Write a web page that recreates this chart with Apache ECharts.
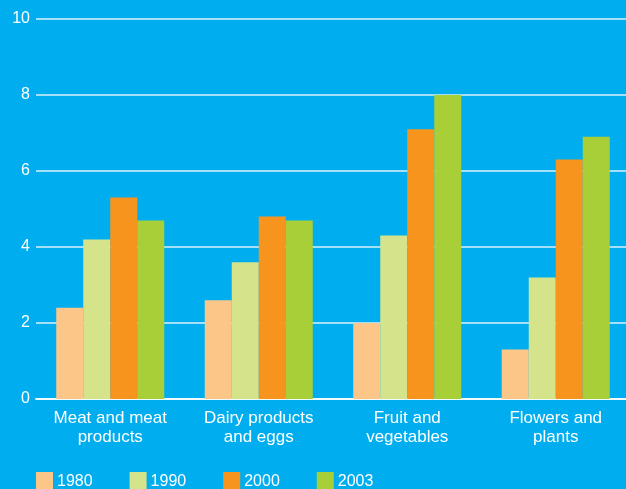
<!DOCTYPE html>
<html><head><meta charset="utf-8">
<script src="https://cdn.jsdelivr.net/npm/echarts@6/dist/echarts.min.js"></script>
<style>html,body{margin:0;padding:0;background:#00aeef;overflow:hidden;}#c{width:630px;height:489px;}</style>
</head><body><div id="c"></div>
<script>
const categories = ['Meat and meat\nproducts', 'Dairy products\nand eggs', 'Fruit and\nvegetables', 'Flowers and\nplants'];
const years = ['1980', '1990', '2000', '2003'];
const v1980 = [2.4, 2.6, 2.0, 1.3];
const v1990 = [4.2, 3.6, 4.3, 3.2];
const v2000 = [5.3, 4.8, 7.1, 6.3];
const v2003 = [4.7, 4.7, 8.0, 6.9];
const yTicks = [0, 2, 4, 6, 8, 10];
const colors = ['#fdc689', '#d5e38b', '#f7941d', '#a9cf38'];
const values = [v1980, v1990, v2000, v2003];

const chart = echarts.init(document.getElementById('c'), null, {renderer: 'canvas'});
const font = 'Liberation Sans, Arial, Helvetica, sans-serif';
chart.setOption({
  backgroundColor: '#00aeef',
  animation: false,
  color: colors,
  textStyle: {fontFamily: font},
  grid: {left: 36, top: 19, right: 0, height: 380, containLabel: false},
  legend: {
    data: years, left: 36, top: 472, icon: 'rect', itemWidth: 17, itemHeight: 20,
    itemGap: 37, selectedMode: false, padding: 0,
    textStyle: {color: '#fff', fontSize: 16, fontFamily: font, padding: [0, 0, 0, -1]}
  },
  xAxis: {
    type: 'category', data: categories,
    axisLine: {show: true, lineStyle: {color: 'rgba(255,255,255,0.85)', width: 2}},
    axisTick: {show: false},
    axisLabel: {color: '#fff', fontSize: 17, lineHeight: 19, margin: 10, fontFamily: font, interval: 0}
  },
  yAxis: {
    type: 'value', min: yTicks[0], max: yTicks[yTicks.length - 1], interval: 2,
    axisLine: {show: false}, axisTick: {show: false},
    splitLine: {lineStyle: {color: 'rgba(255,255,255,0.85)', width: 1.5}},
    axisLabel: {color: '#fff', fontSize: 16, margin: 6, fontFamily: font}
  },
  series: years.map((y, i) => ({
    name: y, type: 'bar', data: values[i], barWidth: 27, barGap: '0%',
    itemStyle: {color: colors[i]}
  }))
});
</script></body></html>
